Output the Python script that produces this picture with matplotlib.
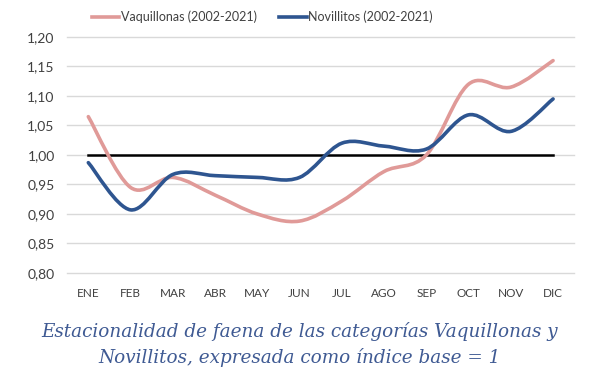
import matplotlib.pyplot as plt
from matplotlib.path import Path
from matplotlib.patches import PathPatch
from matplotlib.lines import Line2D
import numpy as np

months = ['ENE', 'FEB', 'MAR', 'ABR', 'MAY', 'JUN', 'JUL', 'AGO', 'SEP', 'OCT', 'NOV', 'DIC']
vaquillonas = [1.065, 0.945, 0.962, 0.932, 0.900, 0.888, 0.922, 0.972, 1.000, 1.120, 1.115, 1.160]
novillitos = [0.987, 0.907, 0.967, 0.965, 0.962, 0.962, 1.020, 1.015, 1.010, 1.068, 1.040, 1.095]
yticks = [0.80, 0.85, 0.90, 0.95, 1.00, 1.05, 1.10, 1.15, 1.20]

pink = '#E09A98'
blue = '#2E5590'
plt.rcParams['font.family'] = ['Lato', 'DejaVu Sans']


def smooth_path(x, y):
    # Excel-style smoothed line: cubic bezier through points (Catmull-Rom)
    pts = np.column_stack([x, y]).astype(float)
    ext = np.vstack([pts[0], pts, pts[-1]])
    verts = [pts[0]]
    codes = [Path.MOVETO]
    for i in range(len(pts) - 1):
        p0, p1, p2, p3 = ext[i], ext[i + 1], ext[i + 2], ext[i + 3]
        c1 = p1 + (p2 - p0) / 6
        c2 = p2 - (p3 - p1) / 6
        verts += [c1, c2, p2]
        codes += [Path.CURVE4] * 3
    return Path(verts, codes)


fig = plt.figure(figsize=(6, 3.79), dpi=100)
ax = fig.add_axes([0.112, 0.2797, 0.845, 0.6227])
xs = np.arange(len(months))

ax.set_xlim(-0.5, len(months) - 0.5)
ax.set_ylim(0.80, 1.20)
for t in yticks:
    ax.axhline(t, color='#D9D9D9', lw=1, zorder=1, clip_on=False)

ax.plot([xs[0], xs[-1]], [1.0, 1.0], color='black', lw=1.8, zorder=2)
for vals, col in [(vaquillonas, pink), (novillitos, blue)]:
    ax.add_patch(PathPatch(smooth_path(xs, vals), facecolor='none', edgecolor=col,
                           lw=2.6, zorder=3, capstyle='round'))

ax.set_xticks(xs)
ax.set_xticklabels(months, fontsize=8.5, color='#404040')
ax.set_yticks(yticks)
ax.set_yticklabels([f'{t:.2f}'.replace('.', ',') for t in yticks], fontsize=10, color='#404040')
ax.tick_params(length=0, pad=9)
ax.tick_params(axis='x', pad=11)
for s in ax.spines.values():
    s.set_visible(False)

handles = [Line2D([], [], color=pink, lw=2.6), Line2D([], [], color=blue, lw=2.6)]
fig.legend(handles, ['Vaquillonas (2002-2021)', 'Novillitos (2002-2021)'],
           loc='center', bbox_to_anchor=(0.437, 0.955), ncol=2, frameon=False,
           fontsize=9, handlelength=2.2, handletextpad=0.1, columnspacing=1.8,
           labelcolor='#404040')

fig.text(0.5, 0.125, 'Estacionalidad de faena de las categorías Vaquillonas y',
         ha='center', va='center', fontsize=13.2, style='italic',
         family='DejaVu Serif', color='#3F5A93')
fig.text(0.5, 0.058, 'Novillitos, expresada como índice base = 1',
         ha='center', va='center', fontsize=13.2, style='italic',
         family='DejaVu Serif', color='#3F5A93')

fig.savefig('out.png', dpi=100)
